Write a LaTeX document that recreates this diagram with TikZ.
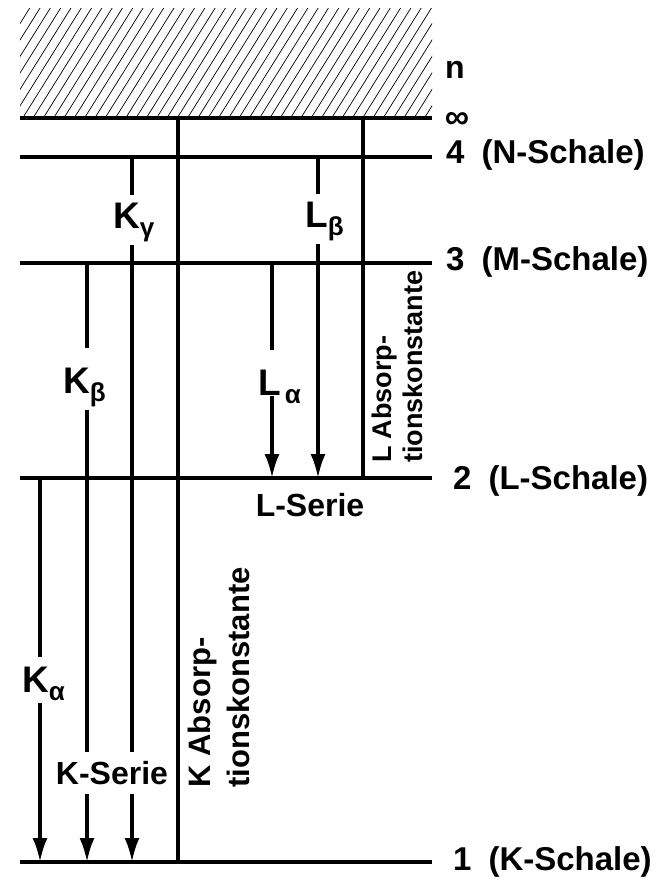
\documentclass[tikz,border=0pt]{standalone}
\usepackage{fontspec}
\setmainfont{Liberation Sans}
\usetikzlibrary{arrows.meta}
\newcommand\lowsub[1]{\raisebox{-8pt}{\fontsize{26}{26}\selectfont #1}}
\begin{document}
\begin{tikzpicture}[x=1pt,y=-1pt,
  level/.style={line width=3.2pt},
  trans/.style={line width=3.2pt},
  arr/.style={trans,-{Latex[length=24pt,width=15pt]}},
  hatch/.style={line width=0.7pt},
  trlbl/.style={font=\fontsize{37}{40}\selectfont\bfseries, inner xsep=0pt, inner ysep=3pt, anchor=base west},
  lvl/.style={font=\fontsize{33}{36}\selectfont\bfseries, inner sep=0pt, anchor=west},
  series/.style={font=\fontsize{32}{36}\selectfont\bfseries, inner xsep=0pt, inner ysep=9pt},
  absorb/.style={rotate=90, align=left, inner sep=0pt, anchor=north west}]
\useasboundingbox (0,0) rectangle (668,881);

% continuum above the ionisation limit
\begin{scope}
  \clip (20,8) rectangle (432,118);
  \foreach \i in {0,...,50}
    \draw[hatch] ({-70+10.3*\i},118) -- ++(72,-115);
\end{scope}

% energy levels
\coordinate (inf-a) at (20,118); \coordinate (inf-b) at (432,118);
\coordinate (n4-a) at (20,157);  \coordinate (n4-b) at (432,157);
\coordinate (n3-a) at (20,263);  \coordinate (n3-b) at (432,263);
\coordinate (n2-a) at (20,478);  \coordinate (n2-b) at (432,478);
\coordinate (n1-a) at (20,862);  \coordinate (n1-b) at (432,862);
\draw[level] (inf-a) -- (inf-b);
\draw[level] (n4-a) -- (n4-b);
\draw[level] (n3-a) -- (n3-b);
\draw[level] (n2-a) -- (n2-b);
\draw[level] (n1-a) -- (n1-b);

% level labels
\node[font=\fontsize{32}{34}\selectfont\bfseries, inner sep=0pt] (nlab) at (455,70) {n};
\node[font=\fontsize{34}{36}\selectfont\bfseries, inner sep=0pt] (inflab) at (457,120) {∞};
\node[lvl] (l4) at (446,155) {4\hspace{17pt}(N-Schale)};
\node[lvl] (l3) at (446,262) {3\hspace{17pt}(M-Schale)};
\node[lvl] (l2) at (453,481) {2\hspace{17pt}(L-Schale)};
\node[lvl] (l1) at (453,862) {1\hspace{17pt}(K-Schale)};

% absorption edges
\coordinate (kabs-top) at (178,118); \coordinate (kabs-bot) at (178,862);
\coordinate (labs-top) at (363,118); \coordinate (labs-bot) at (363,478);
\draw[trans] (kabs-top) -- (kabs-bot);
\draw[trans] (labs-top) -- (labs-bot);
\node[absorb, font=\fontsize{31}{39}\selectfont\bfseries] (kabslab) at (188,788)
  {K\hspace{9pt}Absorp-\\tionskonstante};
\node[absorb, font=\fontsize{27}{31}\selectfont\bfseries] (labslab) at (372,463)
  {L\hspace{7pt}Absorp-\\tionskonstante};

% series labels
\node[series] (kser) at (112,773) {K-Serie};
\node[series, inner ysep=0pt] (lser) at (310,505) {L-Serie};

% transition labels
\node[trlbl] (Ka) at (22,692) {K\lowsub{α}};
\node[trlbl] (Kb) at (63,393) {K\lowsub{β}};
\node[trlbl] (Kg) at (113,228) {K\lowsub{γ}};
\node[trlbl] (La) at (258,395) {L\hspace{4pt}\lowsub{α}};
\node[trlbl] (Lb) at (305,227) {L\lowsub{β}};

% K series transitions
\coordinate (ka-top) at (40,478);  \coordinate (ka-end) at (40,862);
\coordinate (kb-top) at (87,263);  \coordinate (kb-end) at (87,862);
\coordinate (kg-top) at (132,157); \coordinate (kg-end) at (132,862);
\draw[trans, shorten >=6pt] (ka-top) -- (ka-top |- Ka.north);
\draw[arr] (ka-top |- Ka.south) -- (ka-end);
\draw[trans, shorten >=16pt] (kb-top) -- (kb-top |- Kb.north);
\draw[trans] (kb-top |- Kb.south) -- (kb-top |- kser.north);
\draw[arr] (kb-top |- kser.south) -- (kb-end);
\draw[trans, shorten >=4pt] (kg-top) -- (kg-top |- Kg.north);
\draw[trans] (kg-top |- Kg.south) -- (kg-top |- kser.north);
\draw[arr] (kg-top |- kser.south) -- (kg-end);

% L series transitions
\coordinate (la-top) at (272,263); \coordinate (la-end) at (272,478);
\coordinate (lb-top) at (318,157); \coordinate (lb-end) at (318,478);
\draw[trans, shorten >=16pt] (la-top) -- (la-top |- La.north);
\draw[arr, shorten <=-10pt] (la-top |- La.south) -- (la-end);
\draw[trans, shorten >=4pt] (lb-top) -- (lb-top |- Lb.north);
\draw[arr] (lb-top |- Lb.south) -- (lb-end);
\end{tikzpicture}
\end{document}
